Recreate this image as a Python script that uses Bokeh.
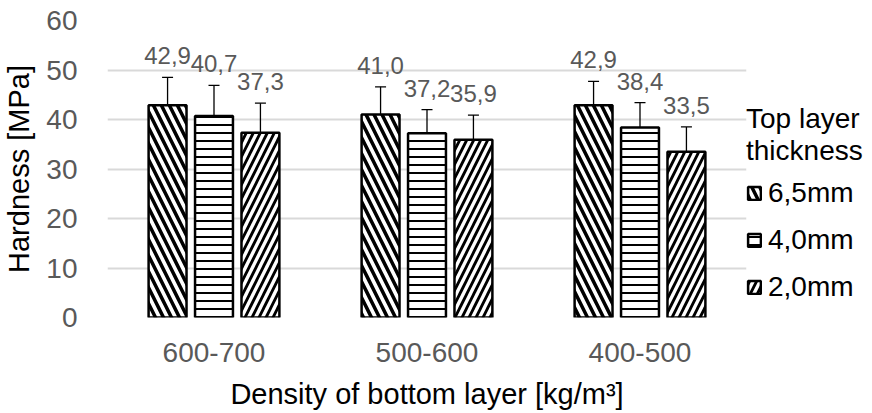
from bokeh.plotting import figure
from bokeh.models import ColumnDataSource, FactorRange, Legend, LegendItem, Whisker, TeeHead
from bokeh.transform import dodge
from bokeh.core.properties import value
from bokeh.embed import file_html
from bokeh.resources import INLINE

# ---- data ----
categories = ["600-700", "500-600", "400-500"]
series_names = ["6,5mm", "4,0mm", "2,0mm"]
hard_65 = [42.9, 41.0, 42.9]
err_65 = [5.6, 5.6, 4.8]
hard_40 = [40.7, 37.2, 38.4]
err_40 = [6.2, 4.8, 5.0]
hard_20 = [37.3, 35.9, 33.5]
err_20 = [6.0, 5.0, 5.0]
y_ticks = [0, 10, 20, 30, 40, 50, 60]

FONT = "Liberation Sans"
GRAY = "#595959"

p = figure(x_range=FactorRange(*categories), y_range=(0, 60),
           frame_width=639, frame_height=297,
           min_border_left=95, min_border_top=20, min_border_bottom=90, min_border_right=0,
           output_backend="svg", toolbar_location=None)
p.outline_line_color = None
p.background_fill_color = "white"
p.border_fill_color = "white"

series = [
    (hard_65, err_65, -0.218, "\\", 16, 3.5),
    (hard_40, err_40, 0.0, "-", 8, 2.0),
    (hard_20, err_20, 0.218, "/", 14, 2.8),
]

items = []
for (vals, errs, off, pat, scale, weight), name in zip(series, series_names):
    src = ColumnDataSource(dict(cat=categories, val=vals,
                                upper=[v + e for v, e in zip(vals, errs)],
                                lower=[v - e for v, e in zip(vals, errs)],
                                lab=[f"{v:.1f}".replace(".", ",") for v in vals]))
    r = p.vbar(x=dodge("cat", off, range=p.x_range), top="val", width=0.178, source=src,
               fill_color="white", line_color="black", line_width=2.5,
               hatch_pattern=pat, hatch_scale=scale, hatch_weight=weight, hatch_color="black")
    w = Whisker(base=dodge("cat", off, range=p.x_range), upper="upper", lower="lower",
                source=src, dimension="height", line_color="black", line_width=1.3,
                upper_head=TeeHead(size=11, line_color="black", line_width=1.3),
                lower_head=TeeHead(size=11, line_color="black", line_width=1.3))
    p.add_layout(w)
    p.text(x=dodge("cat", off, range=p.x_range), y="upper", text="lab", source=src,
           text_align="center", text_baseline="bottom", y_offset=-13,
           text_font=value(FONT), text_font_size="24px", text_color=GRAY)
    items.append(LegendItem(label=name, renderers=[r]))

# axes
p.yaxis.ticker = y_ticks
p.yaxis.axis_line_color = None
p.yaxis.major_tick_line_color = None
p.yaxis.minor_tick_line_color = None
p.yaxis.major_label_text_font = FONT
p.yaxis.major_label_text_font_size = "28px"
p.yaxis.major_label_text_color = GRAY
p.yaxis.major_label_standoff = 24
p.yaxis.axis_label = "Hardness [MPa]"
p.yaxis.axis_label_text_font = FONT
p.yaxis.axis_label_text_font_size = "29px"
p.yaxis.axis_label_text_font_style = "normal"
p.yaxis.axis_label_text_color = "black"
p.yaxis.axis_label_standoff = 8

p.xaxis.axis_line_color = None
p.xaxis.major_tick_line_color = None
p.xaxis.minor_tick_line_color = None
p.xaxis.major_label_text_font = FONT
p.xaxis.major_label_text_font_size = "28px"
p.xaxis.major_label_text_color = GRAY
p.xaxis.major_label_standoff = 19
p.xaxis.axis_label = "Density of bottom layer [kg/m³]"
p.xaxis.axis_label_text_font = FONT
p.xaxis.axis_label_text_font_size = "29px"
p.xaxis.axis_label_text_font_style = "normal"
p.xaxis.axis_label_text_color = "black"
p.xaxis.axis_label_standoff = 13

p.xgrid.grid_line_color = None
p.ygrid.grid_line_color = "#d9d9d9"
p.ygrid.grid_line_width = 2

legend = Legend(items=items, title="Top layer\nthickness", location=(0, 14),
                title_text_font=FONT, title_text_font_size="28px", title_text_font_style="normal",
                title_text_color="black", title_standoff=10,
                label_text_font=FONT, label_text_font_size="28px", label_text_color="black",
                glyph_width=16, glyph_height=16, label_standoff=6, spacing=15,
                padding=3, margin=0, border_line_color=None, background_fill_alpha=0)
p.add_layout(legend, "right")

open("out.html", "w").write(file_html(p, INLINE))
